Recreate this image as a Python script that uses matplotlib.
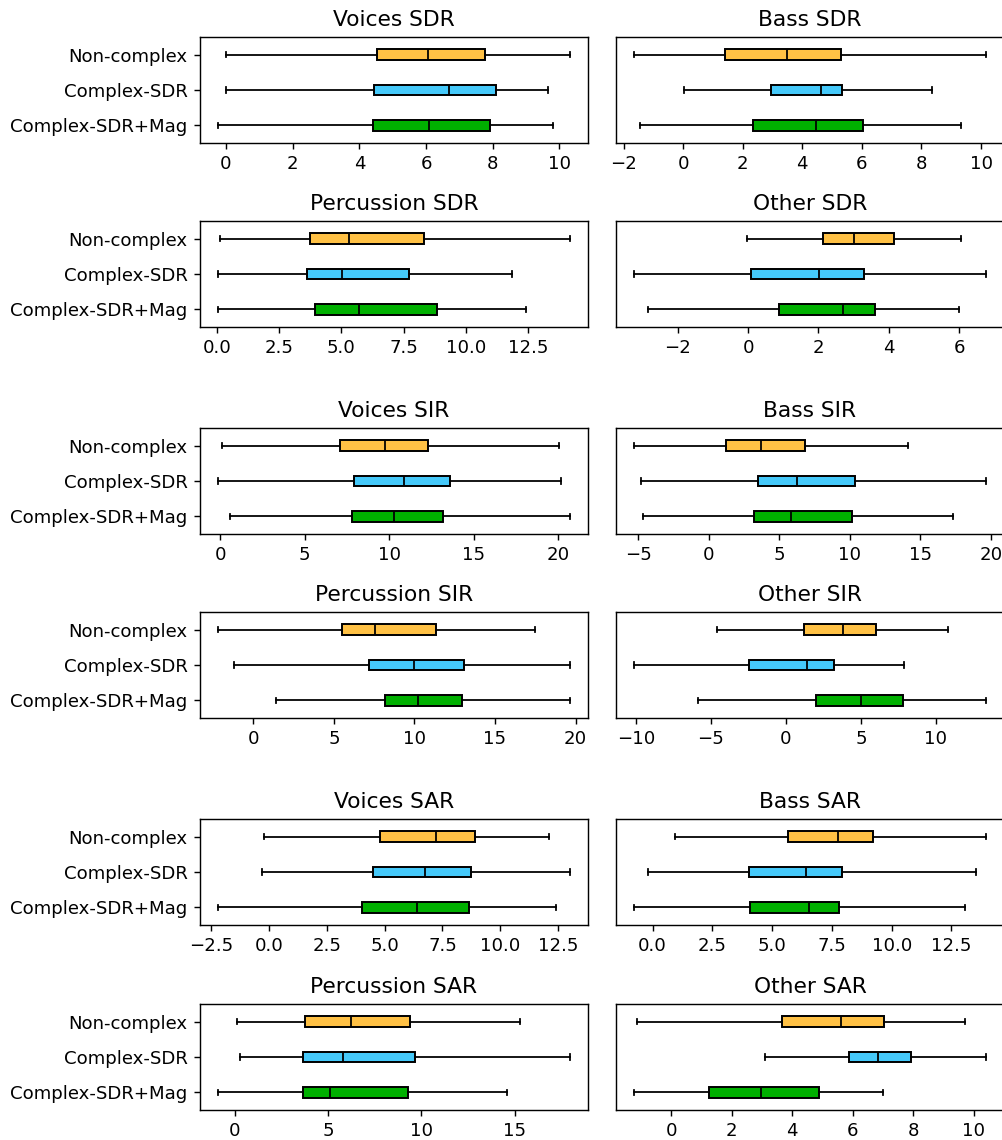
import matplotlib
matplotlib.use('Agg')
import matplotlib.pyplot as plt

# each row: [whislo, q1, median, q3, whishi]
methods = ['Non-complex', 'Complex-SDR', 'Complex-SDR+Mag']
colors = ['#ffc145', '#45c9fa', '#00b000']

voices_sdr = [[0.00, 4.52, 6.05, 7.76, 10.33],
              [0.00, 4.45, 6.70, 8.09, 9.65],
              [-0.25, 4.42, 6.10, 7.91, 9.80]]
bass_sdr = [[-1.66, 1.40, 3.49, 5.29, 10.18],
            [0.02, 2.94, 4.62, 5.35, 8.36],
            [-1.44, 2.33, 4.45, 6.05, 9.32]]
percussion_sdr = [[0.12, 3.74, 5.30, 8.33, 14.18],
                  [0.04, 3.63, 5.03, 7.73, 11.84],
                  [0.04, 3.93, 5.70, 8.85, 12.40]]
other_sdr = [[-0.03, 2.13, 3.01, 4.14, 6.06],
             [-3.25, 0.09, 2.01, 3.29, 6.77],
             [-2.83, 0.88, 2.70, 3.60, 6.00]]

voices_sir = [[0.12, 7.09, 9.76, 12.30, 20.06],
              [-0.14, 7.95, 10.87, 13.58, 20.16],
              [0.61, 7.80, 10.28, 13.21, 20.71]]
bass_sir = [[-5.34, 1.18, 3.69, 6.83, 14.14],
            [-4.82, 3.48, 6.22, 10.40, 19.69],
            [-4.66, 3.21, 5.82, 10.17, 17.33]]
percussion_sir = [[-2.21, 5.50, 7.55, 11.34, 17.48],
                  [-1.18, 7.16, 9.96, 13.06, 19.68],
                  [1.39, 8.19, 10.24, 12.95, 19.68]]
other_sir = [[-4.57, 1.18, 3.84, 5.99, 10.83],
             [-10.14, -2.46, 1.40, 3.20, 7.90],
             [-5.84, 2.00, 5.01, 7.79, 13.36]]

voices_sar = [[-0.22, 4.81, 7.22, 8.92, 12.12],
              [-0.29, 4.48, 6.76, 8.72, 13.03],
              [-2.22, 4.01, 6.41, 8.65, 12.41]]
bass_sar = [[0.96, 5.66, 7.74, 9.22, 13.96],
            [-0.21, 4.04, 6.40, 7.94, 13.53],
            [-0.79, 4.06, 6.56, 7.80, 13.08]]
percussion_sar = [[0.11, 3.77, 6.23, 9.41, 15.29],
                  [0.29, 3.66, 5.79, 9.68, 17.98],
                  [-0.91, 3.68, 5.13, 9.29, 14.61]]
other_sar = [[-1.13, 3.66, 5.60, 7.03, 9.70],
             [3.09, 5.89, 6.83, 7.93, 10.42],
             [-1.24, 1.24, 2.98, 4.88, 7.00]]

panels = [
    ('Voices SDR', voices_sdr), ('Bass SDR', bass_sdr),
    ('Percussion SDR', percussion_sdr), ('Other SDR', other_sdr),
    ('Voices SIR', voices_sir), ('Bass SIR', bass_sir),
    ('Percussion SIR', percussion_sir), ('Other SIR', other_sir),
    ('Voices SAR', voices_sar), ('Bass SAR', bass_sar),
    ('Percussion SAR', percussion_sar), ('Other SAR', other_sar),
]


def make_stats(rows):
    stats = []
    for name, (lo, q1, med, q3, hi) in zip(methods, rows):
        stats.append(dict(label=name, whislo=lo, q1=q1, med=med, q3=q3,
                          whishi=hi, fliers=[]))
    return stats


def main():
    plt.rcParams['font.size'] = 10.2
    W, H = 1002, 1140
    fig = plt.figure(figsize=(W / 128, H / 128), dpi=128)

    # axes placement in pixels
    lefts = [200, 616]
    tops = [37, 221, 428, 612, 819, 1004]
    aw, ah = 388, 106

    for i, (title, rows) in enumerate(panels):
        r, c = divmod(i, 2)
        ax = fig.add_axes([lefts[c] / W, 1 - (tops[r] + ah) / H, aw / W, ah / H])
        bp = ax.bxp(make_stats(rows), positions=[1, 2, 3], widths=0.3,
                    orientation='horizontal', patch_artist=True,
                    showfliers=False,
                    medianprops=dict(color='black', linewidth=1.0),
                    boxprops=dict(edgecolor='black', linewidth=1.1),
                    whiskerprops=dict(color='black', linewidth=1.0),
                    capprops=dict(color='black', linewidth=1.0))
        for patch, col in zip(bp['boxes'], colors):
            patch.set_facecolor(col)
        ax.set_ylim(3.5, 0.5)
        ax.set_title(title)
        if c == 0:
            ax.set_yticks([1, 2, 3])
            ax.set_yticklabels(methods)
        else:
            ax.set_yticks([])

    fig.savefig('out.png', dpi=128)


if __name__ == '__main__':
    main()
